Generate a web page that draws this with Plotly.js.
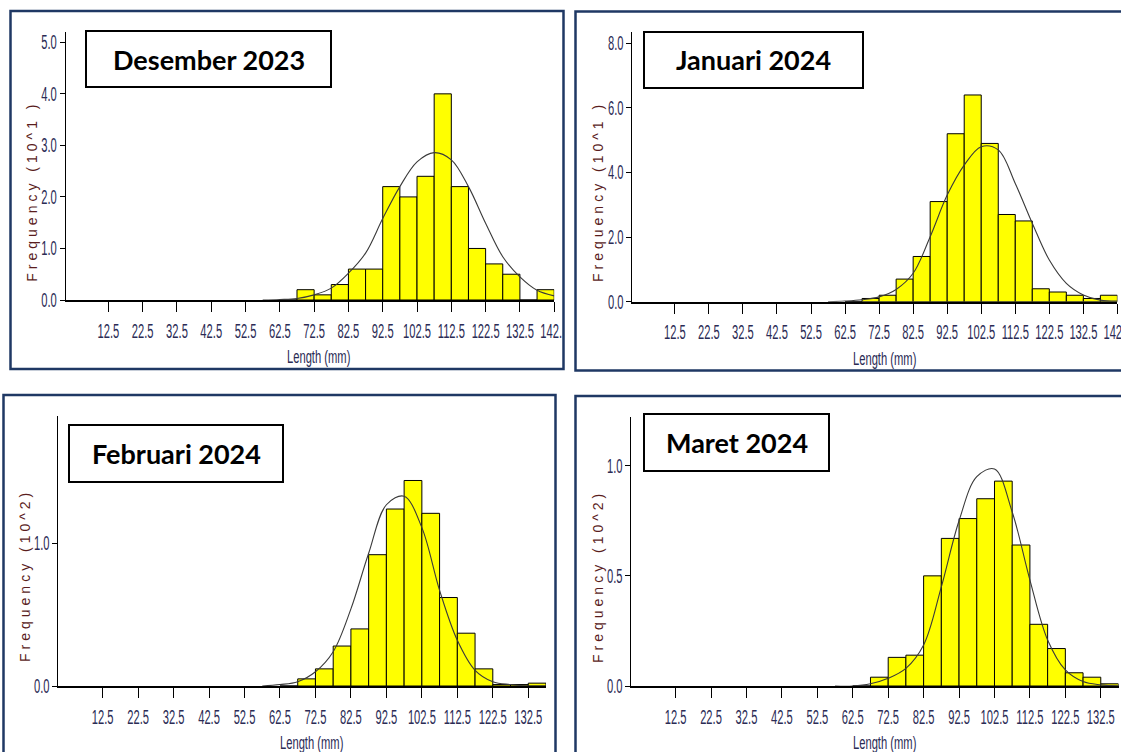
<!DOCTYPE html>
<html>
<head>
<meta charset="utf-8">
<script src="https://cdn.plot.ly/plotly-3.0.1.min.js"></script>
<style>
  html, body { margin: 0; padding: 0; background: #ffffff; }
  #chart { width: 1121px; height: 752px; }
  /* widely spaced caption for the frequency titles */
  text.annotation-text[data-unformatted^="Frequency"] { letter-spacing: 4px; }
</style>
</head>
<body>
<div id="chart"></div>
<script>
// ---- Length-frequency data (5 mm classes, centre of each class in mm) ----
const binCenters = [65, 70, 75, 80, 85, 90, 95, 100, 105, 110, 115, 120, 125, 130, 135, 140];

// Frequencies per class, in units of 10^1 (Dec, Jan) and 10^2 (Feb, Mar)
const freqDes2023 = [0, 0.2, 0.1, 0.3, 0.6, 0.6, 2.2, 2.0, 2.4, 4.0, 2.2, 1.0, 0.7, 0.5, 0, 0.2];
const freqJan2024 = [0, 0.1, 0.2, 0.7, 1.4, 3.1, 5.2, 6.4, 4.9, 2.7, 2.5, 0.4, 0.3, 0.2, 0.1, 0.2];
const freqFeb2024 = [0, 0.05, 0.12, 0.28, 0.40, 0.92, 1.24, 1.44, 1.21, 0.62, 0.37, 0.12, 0.01, 0.01, 0.02, 0];
const freqMar2024 = [0, 0.04, 0.13, 0.14, 0.50, 0.67, 0.76, 0.85, 0.93, 0.64, 0.28, 0.17, 0.06, 0.04, 0.01, 0];

// Fitted normal curves, sampled at class boundaries (mm)
const curveX = [57.5, 62.5, 67.5, 72.5, 77.5, 82.5, 87.5, 92.5, 97.5, 102.5, 107.5, 112.5, 117.5, 122.5, 127.5, 132.5, 137.5, 142.5];
const curveDes2023 = [0, 0.01, 0.03, 0.10, 0.23, 0.52, 0.91, 1.58, 2.20, 2.68, 2.86, 2.72, 2.20, 1.49, 0.84, 0.45, 0.19, 0.08];
const curveJan2024 = [0, 0.02, 0.06, 0.15, 0.38, 0.88, 2.01, 3.30, 4.23, 4.80, 4.70, 3.66, 2.43, 1.29, 0.57, 0.21, 0.05, 0.02];
const curveFeb2024 = [0, 0.01, 0.03, 0.10, 0.24, 0.54, 0.93, 1.27, 1.33, 1.11, 0.67, 0.32, 0.11, 0.03, 0.01, 0, 0, 0];
const curveMar2024 = [0, 0, 0.01, 0.035, 0.08, 0.186, 0.45, 0.75, 0.95, 0.985, 0.79, 0.481, 0.209, 0.073, 0.02, 0.005, 0, 0];

// Axis ticks
const xTicksLong = [12.5, 22.5, 32.5, 42.5, 52.5, 62.5, 72.5, 82.5, 92.5, 102.5, 112.5, 122.5, 132.5, 142.5];
const xTicksShort = [12.5, 22.5, 32.5, 42.5, 52.5, 62.5, 72.5, 82.5, 92.5, 102.5, 112.5, 122.5, 132.5];
const yTicksDes = [0, 1, 2, 3, 4, 5];
const yTicksJan = [0, 2, 4, 6, 8];
const yTicksFeb = [0, 1];
const yTicksMar = [0, 0.5, 1];

// Labels
const monthTitles = ['Desember 2023', 'Januari 2024', 'Februari 2024', 'Maret 2024'];
const freqTitles = ['Frequency (10^1 )', 'Frequency (10^1 )', 'Frequency (10^2)', 'Frequency (10^2)'];
const lengthTitle = 'Length (mm)';

// ---- Page geometry (pixels) ----
const W = 1121, H = 752;
const fx = p => p / W;
const fy = p => 1 - p / H;

const SANS = '"Liberation Sans", Arial, sans-serif';
const TICK_COLOR = '#2b2b55';

const panels = [
  { freq: freqDes2023, curve: curveDes2023, xt: xTicksLong,  yt: yTicksDes,
    ax: [65.5, 554.2], ay: [32, 300],   xmax: 142.5, ymax: 5.2,
    frame: [10.5, 11, 563.5, 369], box: [86, 31, 331, 87],
    ytitle: [31.7, 191], xtitle: [318, 356] },
  { freq: freqJan2024, curve: curveJan2024, xt: xTicksLong,  yt: yTicksJan,
    ax: [632.3, 1117.4], ay: [32, 301.7], xmax: 142.5, ymax: 8.35,
    frame: [575.5, 11.5, 1140, 370.5], box: [644, 32, 863, 88],
    ytitle: [598, 191], xtitle: [884.5, 358] },
  { freq: freqFeb2024, curve: curveFeb2024, xt: xTicksShort, yt: yTicksFeb,
    ax: [58.3, 546.0], ay: [415.7, 686], xmax: 137.5, ymax: 1.894,
    frame: [3.5, 395, 555.5, 780], box: [69, 425, 283, 482],
    ytitle: [25, 576], xtitle: [312, 742] },
  { freq: freqMar2024, curve: curveMar2024, xt: xTicksShort, yt: yTicksMar,
    ax: [631.3, 1118.5], ay: [416.7, 686], xmax: 137.5, ymax: 1.2224,
    frame: [575.5, 396, 1140, 780], box: [644, 414, 829, 471],
    ytitle: [598, 576], xtitle: [884.5, 742] }
];

const traces = [];
const layout = {
  width: W, height: H,
  margin: { l: 0, r: 0, t: 0, b: 0 },
  paper_bgcolor: '#ffffff', plot_bgcolor: 'rgba(0,0,0,0)',
  showlegend: false, bargap: 0,
  shapes: [], annotations: []
};

panels.forEach((p, i) => {
  const n = i === 0 ? '' : String(i + 1);
  const xa = 'x' + n, ya = 'y' + n;

  traces.push({
    type: 'bar', x: binCenters, y: p.freq, width: 5,
    xaxis: xa, yaxis: ya,
    marker: { color: '#ffff00', line: { color: '#000000', width: 1 } },
    hoverinfo: 'x+y'
  });
  traces.push({
    type: 'scatter', mode: 'lines', x: curveX, y: p.curve,
    xaxis: xa, yaxis: ya,
    line: { color: '#3a3a3a', width: 1.1, shape: 'spline', smoothing: 1 },
    hoverinfo: 'skip'
  });

  layout['xaxis' + n] = {
    domain: [fx(p.ax[0]), fx(p.ax[1])], anchor: ya,
    range: [0, p.xmax], fixedrange: true,
    tickmode: 'array', tickvals: p.xt, ticktext: p.xt.map(v => v.toFixed(1)),
    tickangle: 0,
    ticks: 'outside', ticklen: 10, tickwidth: 1, tickcolor: '#000000',
    ticklabelstandoff: 7, ticklabeloverflow: 'allow',
    tickfont: { family: SANS, size: 14, color: TICK_COLOR },
    showline: true, linecolor: '#000000', linewidth: 2,
    showgrid: false, zeroline: false
  };
  layout['yaxis' + n] = {
    domain: [fy(p.ay[1]), fy(p.ay[0])], anchor: xa,
    range: [0, p.ymax], fixedrange: true,
    tickmode: 'array', tickvals: p.yt, ticktext: p.yt.map(v => v.toFixed(1)),
    ticks: 'outside', ticklen: 5, tickwidth: 1, tickcolor: '#000000',
    tickfont: { family: SANS, size: 14, color: TICK_COLOR },
    showline: true, linecolor: '#000000', linewidth: 1,
    showgrid: false, zeroline: false
  };

  // month label box
  layout.shapes.push({
    type: 'rect', xref: 'paper', yref: 'paper', layer: 'above',
    x0: fx(p.box[0]), x1: fx(p.box[2]), y0: fy(p.box[3]), y1: fy(p.box[1]),
    fillcolor: '#ffffff', line: { color: '#000000', width: 2 }
  });
  layout.annotations.push({
    xref: 'paper', yref: 'paper', showarrow: false,
    x: fx((p.box[0] + p.box[2]) / 2), y: fy((p.box[1] + p.box[3]) / 2),
    xanchor: 'center', yanchor: 'middle',
    text: '<b>' + monthTitles[i] + '</b>',
    font: { family: 'Lato, "Open Sans", sans-serif', size: 27, color: '#000000' }
  });

  // axis captions
  layout.annotations.push({
    xref: 'paper', yref: 'paper', showarrow: false, textangle: -90,
    x: fx(p.ytitle[0]), y: fy(p.ytitle[1]), xanchor: 'center', yanchor: 'middle',
    text: freqTitles[i],
    font: { family: SANS, size: 14, color: '#5a1d1d' }
  });
  layout.annotations.push({
    xref: 'paper', yref: 'paper', showarrow: false,
    x: fx(p.xtitle[0]), y: fy(p.xtitle[1]), xanchor: 'center', yanchor: 'middle',
    text: lengthTitle,
    font: { family: SANS, size: 14, color: TICK_COLOR }
  });
});

// the first panel is cropped at its frame: hide what spills past it
layout.shapes.push({
  type: 'rect', xref: 'paper', yref: 'paper', layer: 'above',
  x0: fx(562), x1: fx(574), y0: fy(372), y1: fy(290),
  fillcolor: '#ffffff', line: { width: 0 }
});

// panel frames
panels.forEach(p => {
  layout.shapes.push({
    type: 'rect', xref: 'paper', yref: 'paper', layer: 'above',
    x0: fx(p.frame[0]), x1: fx(p.frame[2]), y0: fy(p.frame[3]), y1: fy(p.frame[1]),
    fillcolor: 'rgba(0,0,0,0)', line: { color: '#1f3864', width: 2.5 }
  });
});

// Tall, condensed lettering for the numeric labels: squeeze each text
// horizontally and stretch it vertically about its own anchor point.
function condense(nodes, sx, sy, anchorEnd) {
  nodes.forEach(el => {
    const bb = el.getBBox();
    const cx = anchorEnd ? bb.x + bb.width : bb.x + bb.width / 2;
    const cy = bb.y + bb.height / 2;
    const t = el.getAttribute('transform') || '';
    el.setAttribute('transform',
      `${t} translate(${cx},${cy}) scale(${sx},${sy}) translate(${-cx},${-cy})`);
  });
}

Plotly.newPlot('chart', traces, layout, { staticPlot: true, displayModeBar: false }).then(gd => {
  condense(gd.querySelectorAll('.xaxislayer-above text'), 0.8, 1.4, false);
  condense(gd.querySelectorAll('.yaxislayer-above text'), 0.8, 1.4, true);
  condense(gd.querySelectorAll('text.annotation-text[data-unformatted="Length (mm)"]'), 0.8, 1.35, false);
});
</script>
</body>
</html>
